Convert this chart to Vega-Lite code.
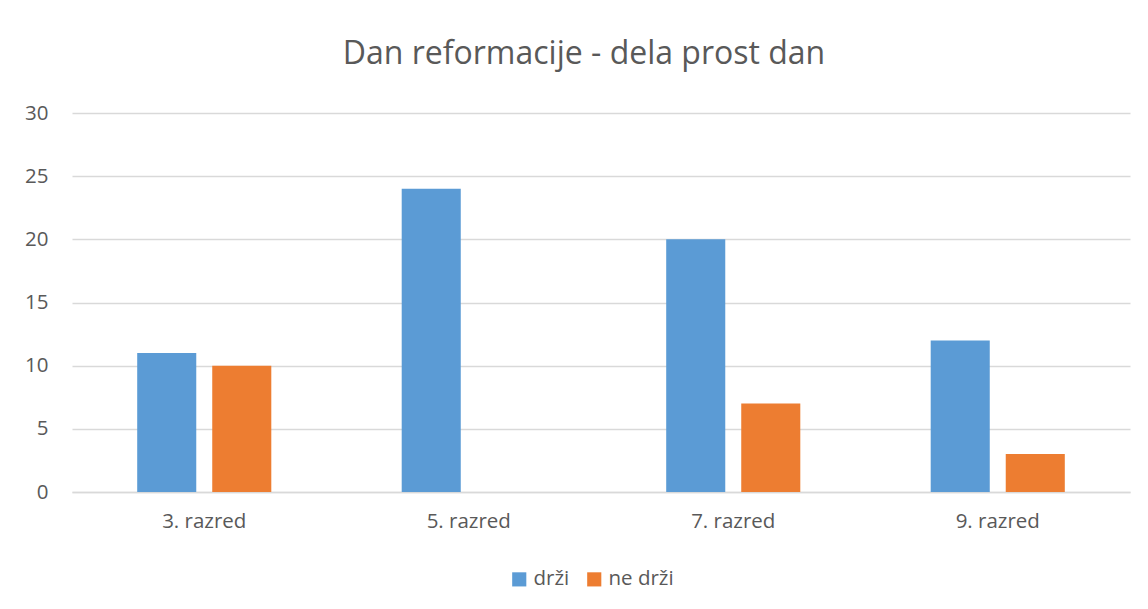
{
  "$schema": "https://vega.github.io/schema/vega-lite/v6.json",
  "width": 1058,
  "height": 379,
  "autosize": {"type": "none"},
  "padding": {"left": 72, "top": 113, "right": 18, "bottom": 117},
  "background": "white",
  "title": {
    "text": "Dan reformacije - dela prost dan",
    "font": "Open Sans",
    "fontSize": 32,
    "fontWeight": "normal",
    "color": "#595959",
    "offset": 32,
    "dx": -17
  },
  "data": {
    "values": [
      {"razred": "3. razred", "serija": "drži", "vrednost": 11},
      {"razred": "3. razred", "serija": "ne drži", "vrednost": 10},
      {"razred": "5. razred", "serija": "drži", "vrednost": 24},
      {"razred": "5. razred", "serija": "ne drži", "vrednost": 0},
      {"razred": "7. razred", "serija": "drži", "vrednost": 20},
      {"razred": "7. razred", "serija": "ne drži", "vrednost": 7},
      {"razred": "9. razred", "serija": "drži", "vrednost": 12},
      {"razred": "9. razred", "serija": "ne drži", "vrednost": 3}
    ]
  },
  "mark": {"type": "bar"},
  "encoding": {
    "x": {
      "field": "razred",
      "type": "nominal",
      "scale": {"paddingInner": 0.493, "paddingOuter": 0.2465},
      "axis": {
        "title": null,
        "labelAngle": 0,
        "labelFont": "Open Sans",
        "labelFontSize": 20.5,
        "labelColor": "#595959",
        "labelPadding": 19,
        "ticks": false,
        "domainColor": "#D9D9D9",
        "domainWidth": 1.5
      }
    },
    "xOffset": {
      "field": "serija",
      "type": "nominal",
      "scale": {"paddingInner": 0.213, "paddingOuter": 0}
    },
    "y": {
      "field": "vrednost",
      "type": "quantitative",
      "scale": {"domain": [0, 30]},
      "axis": {
        "title": null,
        "values": [0, 5, 10, 15, 20, 25, 30],
        "labelFont": "Open Sans",
        "labelFontSize": 20.5,
        "labelColor": "#595959",
        "labelPadding": 24,
        "ticks": false,
        "domain": false,
        "gridColor": "#D9D9D9",
        "gridWidth": 1.5
      }
    },
    "color": {
      "field": "serija",
      "type": "nominal",
      "scale": {"domain": ["drži", "ne drži"], "range": ["#5B9BD5", "#ED7D31"]},
      "legend": {
        "title": null,
        "orient": "none",
        "legendX": 437,
        "legendY": 456,
        "direction": "horizontal",
        "symbolType": "square",
        "symbolSize": 200,
        "symbolStrokeWidth": 0,
        "labelFont": "Open Sans",
        "labelFontSize": 20.5,
        "labelColor": "#595959",
        "labelOffset": 4,
        "columnPadding": 14
      }
    }
  },
  "config": {"view": {"stroke": null}}
}
